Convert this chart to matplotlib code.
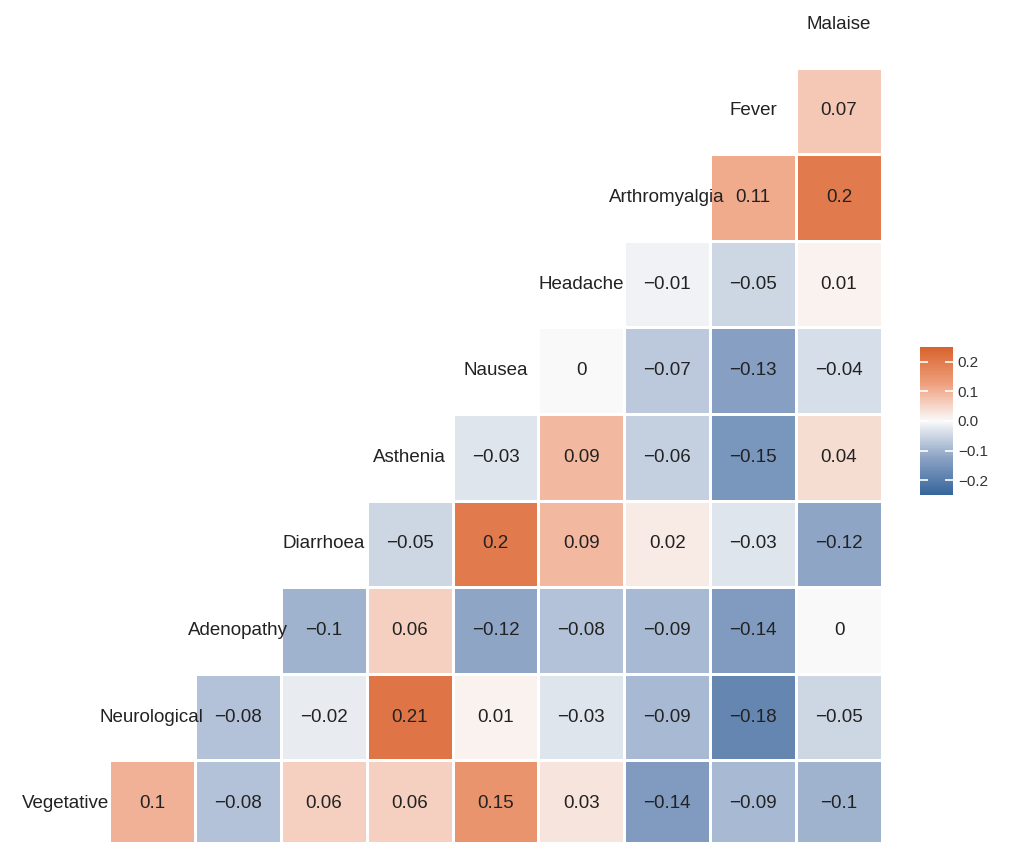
import matplotlib.pyplot as plt
import numpy as np
from matplotlib.colors import LinearSegmentedColormap

plt.rcParams['font.family'] = ['Liberation Sans', 'DejaVu Sans']

# variables, in order from bottom-left to top-right
variables = ["Vegetative", "Neurological", "Adenopathy", "Diarrhoea", "Asthenia",
             "Nausea", "Headache", "Arthromyalgia", "Fever", "Malaise"]

# correlations of each variable with the ones after it
r_vegetative = [0.1, -0.08, 0.06, 0.06, 0.15, 0.03, -0.14, -0.09, -0.1]
r_neurological = [-0.08, -0.02, 0.21, 0.01, -0.03, -0.09, -0.18, -0.05]
r_adenopathy = [-0.1, 0.06, -0.12, -0.08, -0.09, -0.14, 0]
r_diarrhoea = [-0.05, 0.2, 0.09, 0.02, -0.03, -0.12]
r_asthenia = [-0.03, 0.09, -0.06, -0.15, 0.04]
r_nausea = [0, -0.07, -0.13, -0.04]
r_headache = [-0.01, -0.05, 0.01]
r_arthromyalgia = [0.11, 0.2]
r_fever = [0.07]

rows = [r_vegetative, r_neurological, r_adenopathy, r_diarrhoea, r_asthenia,
        r_nausea, r_headache, r_arthromyalgia, r_fever]

n = len(variables)
mat = np.full((n, n), np.nan)
for i, vals in enumerate(rows):
    for k, v in enumerate(vals):
        mat[i, i + 1 + k] = v

cmap = LinearSegmentedColormap.from_list("ggcorr", ["#36659A", "#8AA2C4", "#FAFAFA", "#EFA07E", "#D8622C"])

fig = plt.figure(figsize=(10.10, 8.42), dpi=100)
ax = fig.add_axes([23 / 1010, -5 / 842, 859 / 1010, 866 / 842])

masked = np.ma.masked_invalid(mat)
mesh = ax.pcolormesh(np.arange(n + 1) - 0.5, np.arange(n + 1) - 0.5, masked,
                     cmap=cmap, vmin=-0.25, vmax=0.25,
                     edgecolors="white", linewidth=0.9)

def fmt(v):
    s = "0" if v == 0 else f"{v:g}"
    return s.replace("-", "\u2212")

txt_color = "#222222"
for i in range(n):
    for j in range(i + 1, n):
        ax.text(j, i, fmt(mat[i, j]), ha="center", va="center", fontsize=13.5, color=txt_color)
    ax.text(i, i, variables[i], ha="center", va="center", fontsize=13.5, color=txt_color)

ax.set_xlim(-0.5, n - 0.5)
ax.set_ylim(-0.5, n - 0.5)
ax.axis("off")

cax = fig.add_axes([920 / 1010, (842 - 495) / 842, 33 / 1010, 148 / 842])
cb = fig.colorbar(mesh, cax=cax, ticks=[-0.2, -0.1, 0, 0.1, 0.2])
cb.outline.set_visible(False)
cb.ax.set_yticklabels(["\u22120.2", "\u22120.1", "0.0", "0.1", "0.2"])
cb.ax.tick_params(direction="in", colors="white", length=6, width=1.2, left=True, right=True,
                  labelcolor="#333333", labelsize=11)

fig.savefig("out.png", dpi=100)
